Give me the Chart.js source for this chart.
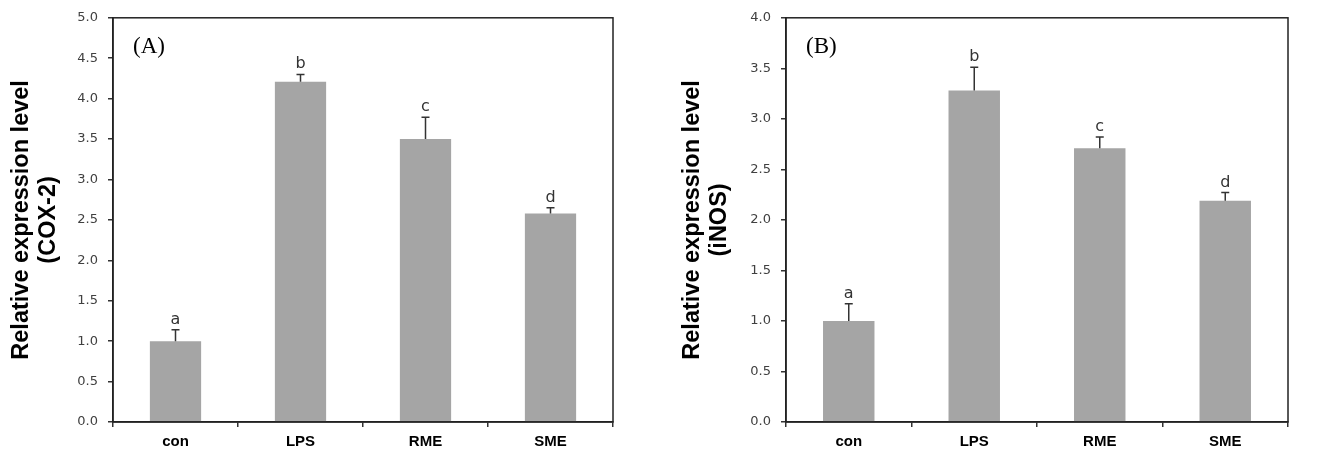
<!DOCTYPE html>
<html>
<head>
<meta charset="utf-8">
<script src="https://cdn.jsdelivr.net/npm/chart.js@4/dist/chart.umd.min.js"></script>
<style>
  html, body { margin: 0; padding: 0; background: #fff; }
  body { width: 1337px; height: 452px; position: relative; overflow: hidden; }
  .panel { position: absolute; top: 0; height: 452px; }
</style>
</head>
<body>
<div class="panel" id="pa" style="left:0;width:665px"><canvas id="ca"></canvas></div>
<div class="panel" id="pb" style="left:670px;width:667px"><canvas id="cb"></canvas></div>
<script>
// ---- data ----
const categories = ['con', 'LPS', 'RME', 'SME'];

const coxValues  = [1.00, 4.21, 3.50, 2.58];
const coxErrors  = [0.14, 0.09, 0.27, 0.07];
const coxLetters = ['a', 'b', 'c', 'd'];
const coxTitle   = ['Relative expression level', '(COX-2)'];
const coxPanel   = '(A)';
const coxMax     = 5.0;

const inosValues  = [1.00, 3.28, 2.71, 2.19];
const inosErrors  = [0.17, 0.23, 0.11, 0.08];
const inosLetters = ['a', 'b', 'c', 'd'];
const inosTitle   = ['Relative expression level', '(iNOS)'];
const inosPanel   = '(B)';
const inosMax     = 4.0;

const yStep = 0.5;

// ---- plugins ----
const errorBarPlugin = {
  id: 'errorBars',
  afterDatasetsDraw(chart, args, opts) {
    const ctx = chart.ctx;
    const meta = chart.getDatasetMeta(0);
    const y = chart.scales.y;
    ctx.save();
    ctx.strokeStyle = '#333';
    ctx.lineWidth = 1.5;
    meta.data.forEach((bar, i) => {
      const v = opts.values[i];
      const e = opts.errors[i];
      const x = bar.x;
      const y0 = y.getPixelForValue(v);
      const y1 = y.getPixelForValue(v + e);
      ctx.beginPath();
      ctx.moveTo(x, y0);
      ctx.lineTo(x, y1);
      ctx.moveTo(x - 4, y1);
      ctx.lineTo(x + 4, y1);
      ctx.stroke();
      ctx.fillStyle = '#333';
      ctx.font = '16px "DejaVu Sans"';
      ctx.textAlign = 'center';
      ctx.textBaseline = 'alphabetic';
      ctx.fillText(opts.letters[i], x, y1 - 6);
    });
    ctx.restore();
  },
  afterDraw(chart, args, opts) {
    const ctx = chart.ctx;
    const a = chart.chartArea;
    ctx.save();
    ctx.strokeStyle = '#222';
    ctx.lineWidth = 1.5;
    ctx.strokeRect(a.left, a.top, a.right - a.left, a.bottom - a.top);
    ctx.fillStyle = '#000';
    ctx.font = '23px "Liberation Serif"';
    ctx.textAlign = 'left';
    ctx.textBaseline = 'middle';
    ctx.fillText(opts.panel, a.left + 20, a.top + 29);
    ctx.restore();
  }
};

function makeChart(id, values, errors, letters, title, panel, maxV, yWidth, padTop, padRight, titlePad) {
  return new Chart(document.getElementById(id), {
    type: 'bar',
    data: {
      labels: categories,
      datasets: [{
        data: values,
        backgroundColor: '#a5a5a5',
        borderWidth: 0,
        barPercentage: 0.41,
        categoryPercentage: 1.0
      }]
    },
    options: {
      responsive: true,
      maintainAspectRatio: false,
      animation: false,
      events: [],
      layout: { padding: { top: padTop, right: padRight, left: 0, bottom: 0 } },
      plugins: {
        legend: { display: false },
        tooltip: { enabled: false },
        errorBars: { values: values, errors: errors, letters: letters, panel: panel }
      },
      scales: {
        x: {
          grid: { display: true, drawOnChartArea: false, drawTicks: true, tickLength: 5, color: '#333', lineWidth: 1.5, offset: true },
          border: { display: true, color: '#222', width: 1.5 },
          ticks: { color: '#000', font: { family: '"Liberation Sans", Arial', size: 15, weight: 'bold' }, padding: 6 },
          afterFit(scale) { scale.height = 30; }
        },
        y: {
          min: 0,
          max: maxV,
          grid: { display: true, drawOnChartArea: false, drawTicks: true, tickLength: 5, color: '#333', lineWidth: 1.5 },
          border: { display: true, color: '#222', width: 1.5 },
          ticks: {
            stepSize: yStep,
            color: '#404040',
            font: { family: '"DejaVu Sans"', size: 13 },
            padding: 10,
            callback: (v) => Number(v).toFixed(1)
          },
          title: {
            display: true,
            text: title,
            color: '#000',
            font: { family: '"Liberation Sans", Arial', size: 23.5, weight: 'bold', lineHeight: '27px' },
            padding: { top: titlePad, bottom: 4 }
          },
          afterFit(scale) { scale.width = yWidth; }
        }
      }
    },
    plugins: [errorBarPlugin]
  });
}

makeChart('ca', coxValues, coxErrors, coxLetters, coxTitle, coxPanel, coxMax, 113, 15, 52, 8.5);
makeChart('cb', inosValues, inosErrors, inosLetters, inosTitle, inosPanel, inosMax, 116, 16, 49, 9.5);
</script>
</body>
</html>
